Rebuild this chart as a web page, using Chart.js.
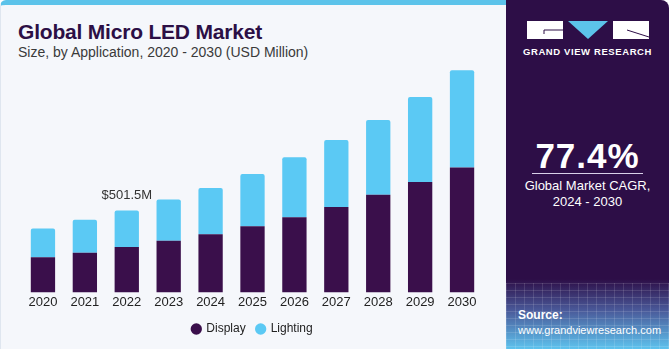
<!DOCTYPE html>
<html lang="en">
<head>
<meta charset="UTF-8">
<title>Global Micro LED Market</title>
<script src="https://cdn.jsdelivr.net/npm/chart.js"></script>
<style>
  html, body { margin: 0; padding: 0; }
  body {
    width: 669px; height: 349px; overflow: hidden; position: relative;
    background: #ffffff;
    font-family: 'Liberation Sans', Arial, sans-serif;
  }
  .left {
    position: absolute; left: 0; top: 0; width: 506px; height: 349px;
    background: #f5f7fb;
    border-top: 5px solid #5cc3ea;
    border-left: 1px solid #dfe6ef;
    border-top-left-radius: 6px;
    box-sizing: border-box;
  }
  .title {
    position: absolute; left: 17px; top: 15px;
    font-size: 21px; font-weight: bold; color: #2c0f45; letter-spacing: -0.2px;
  }
  .subtitle {
    position: absolute; left: 17px; top: 39px;
    font-size: 14px; color: #3a3a3a;
  }
  .chart-wrap { position: absolute; left: 0; top: 54px; width: 506px; height: 295px; }
  .right {
    position: absolute; left: 506px; top: 0; width: 163px; height: 349px;
    background: linear-gradient(to bottom, #2d0e47 0%, #2d0e47 80%, #4a5a9a 89%, #5ec3ee 100%);
    border-top-right-radius: 8px;
    color: #fff; text-align: center;
  }
  .grid {
    position: absolute; left: 0; right: 0; bottom: 0; height: 66px;
    background-image:
      linear-gradient(rgba(255,255,255,0.12) 1px, transparent 1px),
      linear-gradient(90deg, rgba(255,255,255,0.12) 1px, transparent 1px);
    background-size: 9px 7px;
  }
  .logo { position: absolute; left: 21px; top: 21px; }
  .brand {
    position: absolute; left: 0; width: 163px; top: 46px;
    font-size: 9.5px; font-weight: bold; letter-spacing: 0.6px;
  }
  .cagr {
    position: absolute; left: 0; width: 163px; top: 136px;
    font-size: 35px; font-weight: bold; letter-spacing: 1px;
  }
  .rule { position: absolute; left: 26px; width: 111px; top: 173px; border-top: 1px solid #d8d0e8; }
  .cagr-label {
    position: absolute; left: 0; width: 163px; top: 178px;
    font-size: 13px; line-height: 16px;
  }
  .source {
    position: absolute; left: 12px; top: 308px; text-align: left;
    font-size: 11px; line-height: 15px;
  }
  .source b { font-size: 12px; }
</style>
</head>
<body>
  <div class="left">
    <div class="title">Global Micro LED Market</div>
    <div class="subtitle">Size, by Application, 2020 - 2030 (USD Million)</div>
  </div>
  <div class="chart-wrap"><canvas id="chart" width="506" height="295"></canvas></div>
  <div class="right">
    <div class="grid"></div>
    <svg class="logo" width="122" height="19" viewBox="0 0 122 19">
      <rect x="0" y="0" width="36" height="18" fill="#fff"/>
      <line x1="17" y1="9" x2="36" y2="9" stroke="#2d0e47" stroke-width="1"/>
      <line x1="17" y1="9" x2="17" y2="13" stroke="#2d0e47" stroke-width="1"/>
      <polygon points="41,0 81,0 61,18" fill="#5cc3ea"/>
      <rect x="86" y="0" width="36" height="18" fill="#fff"/>
      <line x1="100" y1="9" x2="122" y2="16" stroke="#2d0e47" stroke-width="1"/>
    </svg>
    <div class="brand">GRAND VIEW RESEARCH</div>
    <div class="cagr">77.4%</div>
    <div class="rule"></div>
    <div class="cagr-label">Global Market CAGR,<br>2024 - 2030</div>
    <div class="source"><b>Source:</b><br>www.grandviewresearch.com</div>
  </div>

<script>
  // Values (USD Million)
  const years = ['2020', '2021', '2022', '2023', '2024', '2025', '2026', '2027', '2028', '2029', '2030'];
  const display = [216, 243, 279, 316, 357, 406, 461, 524, 599, 677, 766];
  const lighting = [175, 202, 222.5, 253, 283, 320, 367, 410, 457, 520, 596];
  const callout = { index: 2, text: '$501.5M' };

  const displayColor = '#3a0f4b';
  const lightingColor = '#5bc9f4';

  // draws the value label above one bar
  const calloutPlugin = {
    id: 'callout',
    afterDatasetsDraw(chart) {
      const { ctx, scales } = chart;
      const total = display[callout.index] + lighting[callout.index];
      const x = scales.x.getPixelForValue(callout.index);
      const y = scales.y.getPixelForValue(total);
      ctx.save();
      ctx.font = '13px "Liberation Sans", Arial, sans-serif';
      ctx.fillStyle = '#333';
      ctx.textAlign = 'center';
      ctx.textBaseline = 'bottom';
      ctx.fillText(callout.text, x, y - 9);
      ctx.restore();
    }
  };

  new Chart(document.getElementById('chart'), {
    type: 'bar',
    data: {
      labels: years,
      datasets: [
        {
          label: 'Display',
          data: display,
          backgroundColor: displayColor,
          borderRadius: 0,
          barPercentage: 0.58,
          categoryPercentage: 1
        },
        {
          label: 'Lighting',
          data: lighting,
          backgroundColor: lightingColor,
          borderRadius: { topLeft: 2, topRight: 2 },
          borderSkipped: 'bottom',
          barPercentage: 0.58,
          categoryPercentage: 1
        }
      ]
    },
    options: {
      responsive: false,
      animation: false,
      layout: { padding: { left: 22, right: 23, top: 10, bottom: 4 } },
      scales: {
        x: {
          stacked: true,
          grid: { display: false, drawTicks: false },
          border: { display: false },
          ticks: {
            color: '#222',
            padding: 2,
            font: { family: '"Liberation Sans", Arial, sans-serif', size: 13 }
          }
        },
        y: {
          stacked: true,
          display: false,
          min: 0,
          max: 1400
        }
      },
      plugins: {
        legend: {
          position: 'bottom',
          labels: {
            usePointStyle: true,
            pointStyle: 'circle',
            boxWidth: 8,
            boxHeight: 8,
            padding: 11,
            color: '#222',
            font: { family: '"Liberation Sans", Arial, sans-serif', size: 12 }
          }
        },
        tooltip: { enabled: false }
      }
    },
    plugins: [calloutPlugin]
  });
</script>
</body>
</html>
